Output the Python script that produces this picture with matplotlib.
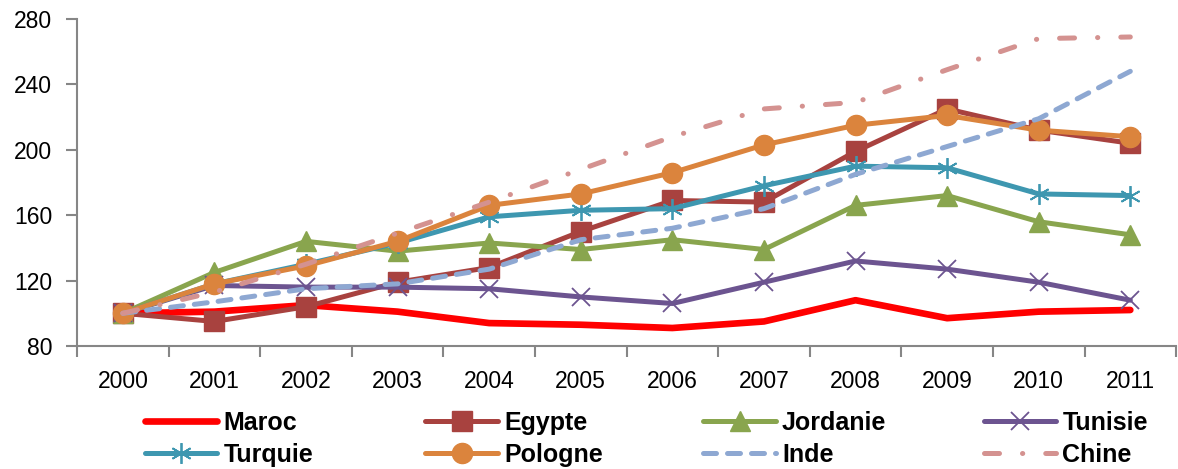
import matplotlib
matplotlib.use("Agg")
import matplotlib.pyplot as plt

plt.rcParams['font.family'] = ['Liberation Sans', 'DejaVu Sans']

years = ["2000", "2001", "2002", "2003", "2004", "2005", "2006",
         "2007", "2008", "2009", "2010", "2011"]

maroc = [100, 101, 105, 101, 94, 93, 91, 95, 108, 97, 101, 102]
egypte = [100, 95, 104, 119, 128, 150, 169, 168, 199, 225, 212, 204]
jordanie = [100, 125, 144, 138, 143, 139, 145, 139, 166, 172, 156, 148]
tunisie = [100, 117, 116, 116, 115, 110, 106, 119, 132, 127, 119, 108]
turquie = [100, 118, 130, 143, 159, 163, 164, 178, 190, 189, 173, 172]
pologne = [100, 118, 129, 144, 166, 173, 186, 203, 215, 221, 212, 208]
inde = [100, 107, 115, 118, 127, 145, 152, 164, 185, 202, 219, 248]
chine = [100, 113, 130, 149, 168, 188, 208, 225, 229, 249, 268, 269]

yticks = [80, 120, 160, 200, 240, 280]

fig = plt.figure(figsize=(11.78, 4.69), dpi=100)
ax = fig.add_axes([0.0654, 0.2623, 0.933, 0.6972])

x = list(range(len(years)))
axis_grey = "#868686"

series = [
    ("Maroc", maroc, dict(color="#FF0000", lw=4.8)),
    ("Egypte", egypte, dict(color="#A8423F", lw=3.6, marker="s", ms=14)),
    ("Jordanie", jordanie, dict(color="#89A54E", lw=3.6, marker="^", ms=15)),
    ("Tunisie", tunisie, dict(color="#6C5490", lw=3.6, marker="x", ms=13, mew=1.3)),
    ("Turquie", turquie, dict(color="#3E97B0", lw=3.6, marker=(6, 2, 0), ms=15, mew=1.3)),
    ("Pologne", pologne, dict(color="#DB843D", lw=3.6, marker="o", ms=14.5)),
    ("Inde", inde, dict(color="#8EA8D2", lw=3.6, dashes=(2.6, 2.2), dash_capstyle="round")),
    ("Chine", chine, dict(color="#D49290", lw=3.6, dashes=(3.0, 4.6, 0.05, 4.6), dash_capstyle="round")),
]

handles = []
for name, vals, style in series:
    line, = ax.plot(x, vals, label=name, solid_capstyle="round", **style)
    handles.append(line)

ax.set_xlim(-0.5, len(years) - 0.5)
ax.set_ylim(80, 280)
ax.set_yticks(yticks)
ax.set_yticklabels([str(v) for v in yticks])

# category labels at centres, tick marks between categories
ax.set_xticks(x)
ax.set_xticklabels(years)
ax.set_xticks([i - 0.5 for i in range(len(years) + 1)], minor=True)
ax.tick_params(axis="x", which="major", length=0, pad=17, labelsize=16.5)
ax.tick_params(axis="x", which="minor", length=8, width=1.5, color=axis_grey, direction="out")
ax.tick_params(axis="y", length=8, width=1.5, color=axis_grey, direction="out", labelsize=16.5, pad=10)

for side in ("top", "right"):
    ax.spines[side].set_visible(False)
for side in ("left", "bottom"):
    ax.spines[side].set_color(axis_grey)
    ax.spines[side].set_linewidth(1.5)

# legend: four columns, two rows (row-major order)
col_x = [0.123, 0.361, 0.597, 0.835]
for c in range(4):
    entries = [handles[c], handles[c + 4]]
    leg = fig.legend(handles=entries, loc="upper left",
                     bbox_to_anchor=(col_x[c], 0.124), frameon=False,
                     borderpad=0, borderaxespad=0,
                     handlelength=2.9, handletextpad=0.25, labelspacing=0.32,
                     prop=dict(weight="bold", size=18))

fig.savefig("out.png", dpi=100)
